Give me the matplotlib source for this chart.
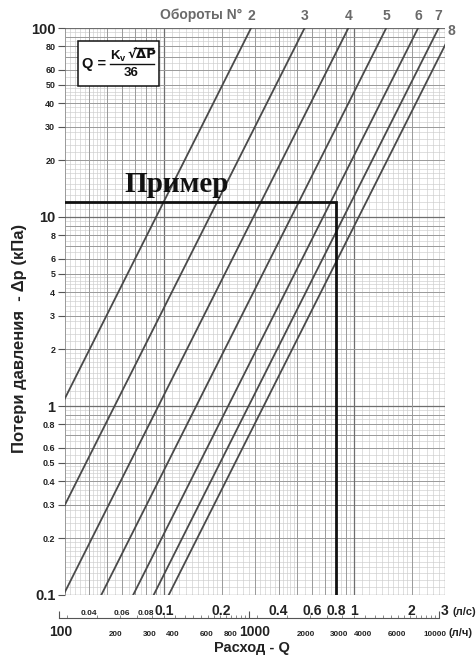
import numpy as np
import matplotlib
matplotlib.use('Agg')
import matplotlib.pyplot as plt
from matplotlib.patches import Rectangle
from matplotlib.lines import Line2D
from matplotlib.transforms import blended_transform_factory

plt.rcParams['font.family'] = ['Liberation Sans', 'DejaVu Sans']
plt.rcParams['font.weight'] = 'bold'
plt.rcParams['mathtext.fontset'] = 'custom'
plt.rcParams['mathtext.rm'] = 'Liberation Sans:bold'
plt.rcParams['mathtext.bf'] = 'Liberation Sans:bold'
plt.rcParams['mathtext.it'] = 'Liberation Sans:bold'

# Kv каждой кривой (по графику) и номер оборотов
kv_values = [1.03, 1.97, 3.35, 5.3, 7.8, 10.0, 12.0]
turn_labels = ['2', '3', '4', '5', '6', '7', '8']

# пример
example_q = 0.8
example_dp = 12

# оси
q_min, q_max = 0.03, 3
dp_min, dp_max = 0.1, 100

q_ticks = [0.04, 0.06, 0.08, 0.1, 0.2, 0.4, 0.6, 0.8, 1, 2, 3]
q_labels = ['0.04', '0.06', '0.08', '0.1', '0.2', '0.4', '0.6', '0.8', '1', '2', '3']
q_big = [False, False, False, True, True, True, True, True, True, True, True]

lh_ticks = [100, 200, 300, 400, 600, 800, 1000, 2000, 3000, 4000, 6000, 10000]
lh_labels = ['100', '200', '300', '400', '600', '800', '1000', '2000', '3000', '4000', '6000', '10000']
lh_big = [True, False, False, False, False, False, True, False, False, False, False, False]
lh_shift = [1.03, 1, 1, 1, 1, 1, 1.075, 1, 1, 1, 1, 0.96]

dp_ticks = [0.1, 0.2, 0.3, 0.4, 0.5, 0.6, 0.8, 1, 2, 3, 4, 5, 6, 8,
            10, 20, 30, 40, 50, 60, 80, 100]
dp_labels = ['0.1', '0.2', '0.3', '0.4', '0.5', '0.6', '0.8', '1', '2', '3', '4', '5', '6', '8',
             '10', '20', '30', '40', '50', '60', '80', '100']

fig = plt.figure(figsize=(4.76, 6.58), dpi=100)
W, H = 476, 658
ax = fig.add_axes([65 / W, 63 / H, 380 / W, 567 / H])
ax.set_xscale('log')
ax.set_yscale('log')
ax.set_xlim(q_min, q_max)
ax.set_ylim(dp_min, dp_max)


# сетка логарифмической бумаги
def fine_values(lo, hi):
    vals = []
    for dec in range(-3, 3):
        base = 10.0 ** dec
        for start, stop, step in [(1, 2, 0.1), (2, 5, 0.2), (5, 10, 0.5)]:
            for m in np.arange(start, stop, step):
                v = m * base
                if lo <= v <= hi:
                    vals.append(v)
    return vals


for v in fine_values(q_min, q_max):
    ax.axvline(v, color='#cdcdcd', lw=0.45, zorder=0)
for v in fine_values(dp_min, dp_max):
    ax.axhline(v, color='#cdcdcd', lw=0.45, zorder=0)
for dec in range(-3, 3):
    for m in range(1, 10):
        v = m * 10.0 ** dec
        c, w = ('#6e6e6e', 0.9) if m == 1 else ('#9a9a9a', 0.7)
        if q_min <= v <= q_max:
            ax.axvline(v, color=c, lw=w, zorder=0.5)
        if dp_min <= v <= dp_max:
            ax.axhline(v, color=c, lw=w, zorder=0.5)

for s in ax.spines.values():
    s.set_visible(False)
ax.axvline(q_max, color='#6e6e6e', lw=0.9, zorder=0.5)

# кривые
for kv in kv_values:
    q_ends = [kv * np.sqrt(dp_min) / 36, kv * np.sqrt(dp_max) / 36]
    ax.plot(q_ends, [dp_min, dp_max], color='#4a4a4a', lw=1.3, zorder=3)

# пример
ax.plot([q_min, example_q, example_q], [example_dp, example_dp, dp_min],
        color='#111111', lw=2.0, zorder=4, solid_joinstyle='miter')
ax.text(0.116, 13.6, 'Пример', family=['Liberation Serif', 'DejaVu Serif'],
        fontsize=21, fontweight='bold', ha='center', va='baseline', color='#111111', zorder=5)

# ось Y
ax.set_yticks(dp_ticks)
ax.set_yticklabels(dp_labels)
ax.yaxis.set_minor_locator(matplotlib.ticker.NullLocator())
ax.tick_params(axis='y', length=5, width=0.8, color='#555555', pad=2)
for lab, txt in zip(ax.get_yticklabels(), dp_labels):
    lab.set_fontsize(10.5 if txt in ('0.1', '1', '10', '100') else 6.5)
    lab.set_fontweight('bold')
    lab.set_color('#222222')

# ось X (л/с)
ax.set_xticks([])
ax.xaxis.set_minor_locator(matplotlib.ticker.NullLocator())
bt = blended_transform_factory(ax.transData, ax.transAxes)
for v, txt, big in zip(q_ticks, q_labels, q_big):
    ax.text(v, -0.036, txt, transform=bt, ha='center', va='baseline',
            fontsize=10 if big else 6, fontweight='bold', color='#222222', clip_on=False)
ax.text(3.3, -0.036, '(л/с)', transform=bt, ha='left', va='baseline',
        fontsize=8, fontweight='bold', color='#222222', clip_on=False)

# ось X (л/ч)
lf = np.log10(q_min)
span = np.log10(q_max) - lf
x0 = 65 / W + 380 / W * (np.log10(lh_ticks[0] / 3600) - lf) / span
x1 = 65 / W + 380 / W * (np.log10(lh_ticks[-1] / 3600) - lf) / span
lh_ax = fig.add_axes([x0, 1 - (595 + 23) / H, x1 - x0, 0.0001])
lh_ax.set_xscale('log')
lh_ax.set_xlim(lh_ticks[0], lh_ticks[-1])
lh_ax.set_yticks([])
for k in ('top', 'left', 'right'):
    lh_ax.spines[k].set_visible(False)
lh_ax.spines['bottom'].set_color('#555555')
lh_ax.spines['bottom'].set_linewidth(0.8)
lh_ax.patch.set_alpha(0)
lh_ax.set_xticks([100, 1000, 10000])
lh_ax.set_xticklabels([])
lh_ax.xaxis.set_minor_locator(matplotlib.ticker.LogLocator(base=10, subs=np.arange(1.1, 10, 0.5)))
lh_ax.xaxis.set_minor_formatter(matplotlib.ticker.NullFormatter())
lh_ax.tick_params(axis='x', which='major', direction='in', length=5, width=0.8, color='#555555')
lh_ax.tick_params(axis='x', which='minor', direction='in', length=2.5, width=0.6, color='#777777')
for v, txt, big, sh in zip(lh_ticks, lh_labels, lh_big, lh_shift):
    ax.text(v * sh / 3600, -0.073, txt, transform=bt, ha='center', va='baseline',
            fontsize=10 if big else 5.8, fontweight='bold', color='#222222', clip_on=False)
ax.text(11300 / 3600, -0.073, '(л/ч)', transform=bt, ha='left', va='baseline',
        fontsize=8, fontweight='bold', color='#222222', clip_on=False)

# подписи осей
fig.text(252 / W, 1 - 648 / H, 'Расход - Q', ha='center', va='center',
         fontsize=10.5, fontweight='bold', color='#222222')
fig.text(20 / W, 1 - 338 / H, 'Потери давления  - Δp (кПа)', ha='center', va='center',
         rotation=90, fontsize=12, fontweight='bold', color='#222222')

# номера оборотов
for kv, txt in zip(kv_values, turn_labels):
    q_top = kv * np.sqrt(dp_max) / 36
    if q_top <= q_max:
        ax.text(q_top, 1.022, txt, transform=bt, ha='center', va='center',
                fontsize=10, color='#6a6a6a', clip_on=False)
    else:
        ax.text(1.006, 0.995, txt, transform=ax.transAxes, ha='left', va='center',
                fontsize=10, color='#6a6a6a', clip_on=False)
fig.text(242 / W, 1 - 15 / H, 'Обороты N°', ha='right', va='center',
         fontsize=10, fontweight='bold', color='#6a6a6a')

# формула
ax.add_patch(Rectangle((0.034, 0.898), 0.213, 0.079, transform=ax.transAxes,
                       facecolor='white', edgecolor='#111111', lw=1.1, zorder=6))
fig.text(94 / W, 1 - 64 / H, 'Q =', ha='center', va='center', fontsize=10.5,
         fontweight='bold', color='#111111', zorder=7)
fig.text(110 / W, 1 - 56 / H, r'$\mathbf{K_v}$', ha='left', va='center',
         fontsize=9.5, color='#111111', zorder=7)
fig.text(127 / W, 1 - 55 / H, '√ΔP', ha='left', va='center',
         fontsize=9.5, fontweight='bold', color='#111111', zorder=7,
         family=['DejaVu Sans'])
fig.add_artist(Line2D([134 / W, 153 / W], [1 - 47.5 / H, 1 - 47.5 / H], transform=fig.transFigure,
                      color='#111111', lw=1.0, zorder=7))
fig.add_artist(Line2D([110 / W, 154 / W], [1 - 64 / H, 1 - 64 / H], transform=fig.transFigure,
                      color='#111111', lw=1.0, zorder=7))
fig.text(131 / W, 1 - 73 / H, '36', ha='center', va='center', fontsize=9.5,
         fontweight='bold', color='#111111', zorder=7)

fig.savefig('out.png', dpi=100)
